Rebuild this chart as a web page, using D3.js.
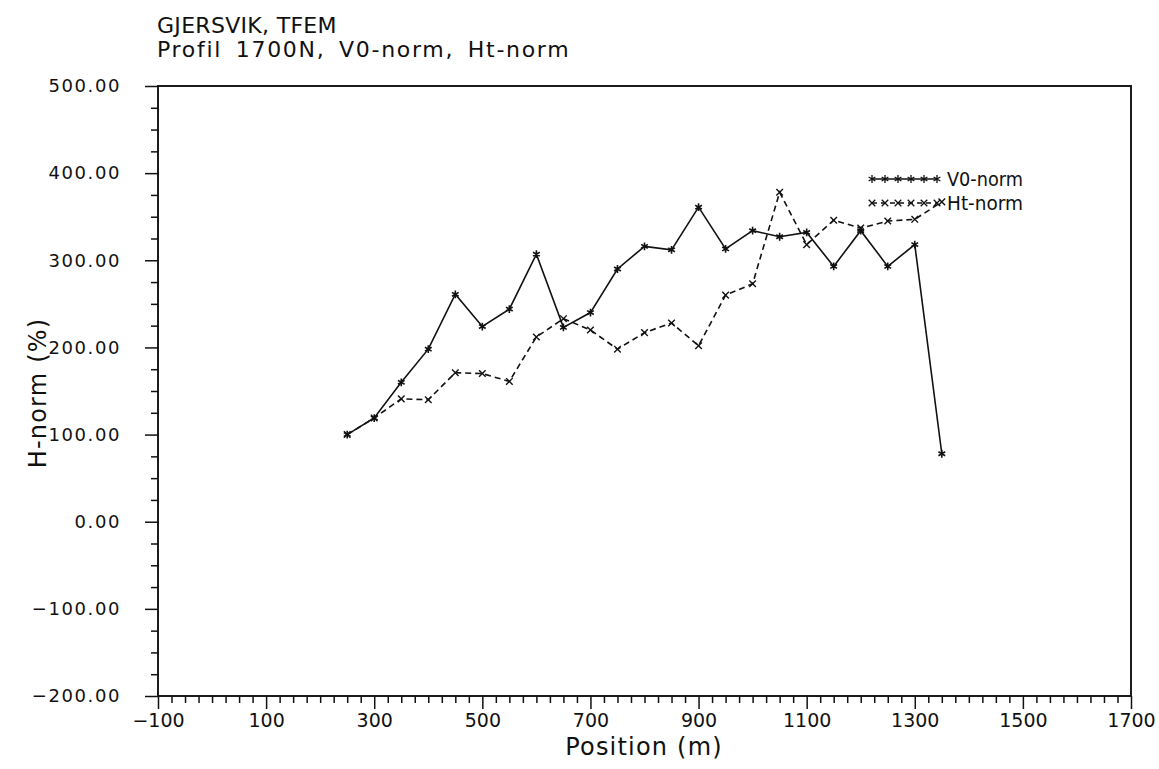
<!DOCTYPE html>
<html>
<head>
<meta charset="utf-8">
<script src="https://cdn.jsdelivr.net/npm/d3@7"></script>
<style>
  body { margin: 0; background: #fff; }
  svg text { font-family: "DejaVu Sans", sans-serif; fill: #111; }
</style>
</head>
<body>
<svg id="chart" width="1159" height="769"></svg>
<script>
// Station positions along the profile (m)
const positions = [250, 300, 350, 400, 450, 500, 550, 600, 650, 700, 750, 800,
                   850, 900, 950, 1000, 1050, 1100, 1150, 1200, 1250, 1300, 1350];
// Normalised amplitudes (%)
const v0Norm = [100, 119, 160, 198, 261, 224, 244, 307, 223, 240, 290, 316,
                312, 361, 313, 334, 327, 332, 293, 334, 293, 318, 78];
const htNorm = [100, 119, 141, 140, 171, 170, 161, 212, 233, 220, 198, 217,
                228, 202, 260, 273, 378, 318, 346, 337, 345, 347, 367];
const seriesNames = ["V0-norm", "Ht-norm"];
const titleLines = ["GJERSVIK, TFEM", "Profil 1700N, V0-norm, Ht-norm"];
const xTicks = [-100, 100, 300, 500, 700, 900, 1100, 1300, 1500, 1700];
const yTicks = [-200, -100, 0, 100, 200, 300, 400, 500];
const xLabel = "Position (m)";
const yLabel = "H-norm (%)";

const svg = d3.select("#chart");
const plotL = 158, plotR = 1131, plotT = 86, plotB = 696;

const x = d3.scaleLinear().domain([-100, 1700]).range([plotL, plotR]);
const y = d3.scaleLinear().domain([-200, 500]).range([plotB, plotT]);

const ink = "#111";

// Titles
svg.append("text").attr("x", 157).attr("y", 33).attr("font-size", 22)
  .attr("letter-spacing", 0.3).text(titleLines[0]);
svg.append("text").attr("x", 157).attr("y", 57).attr("font-size", 22)
  .attr("letter-spacing", 1.7).attr("word-spacing", 5).text(titleLines[1]);

// Minor ticks every 25 units on both axes
const xMinor = d3.range(-100, 1700.1, 25).filter(v => !xTicks.includes(v));
const yMinor = d3.range(-200, 500.1, 25).filter(v => !yTicks.includes(v));

const gx = svg.append("g").attr("transform", `translate(0,${plotB})`);
gx.call(d3.axisBottom(x).tickValues(xMinor).tickSize(7).tickFormat(""));
gx.append("g").call(d3.axisBottom(x).tickValues(xTicks).tickSize(13)
  .tickPadding(5).tickFormat(d3.format("d")));
gx.selectAll("text").attr("font-size", 19).attr("fill", ink)
  .style("font-family", "DejaVu Sans, sans-serif");

const gy = svg.append("g").attr("transform", `translate(${plotL},0)`);
gy.call(d3.axisLeft(y).tickValues(yMinor).tickSize(7).tickFormat(""));
gy.append("g").call(d3.axisLeft(y).tickValues(yTicks).tickSize(13)
  .tickPadding(24).tickFormat(d3.format(".2f")));
gy.selectAll("text").attr("font-size", 18).attr("fill", ink)
  .attr("letter-spacing", 1.6)
  .style("font-family", "DejaVu Sans, sans-serif");

svg.selectAll(".domain").remove();
svg.selectAll(".tick line").attr("stroke", ink).attr("stroke-width", 1.5);

// Frame
svg.append("rect").attr("x", plotL).attr("y", plotT)
  .attr("width", plotR - plotL).attr("height", plotB - plotT)
  .attr("fill", "none").attr("stroke", ink).attr("stroke-width", 1.9);

// Axis titles
svg.append("text").attr("x", 644).attr("y", 755).attr("text-anchor", "middle")
  .attr("font-size", 24).attr("letter-spacing", 1.2).text(xLabel);
svg.append("text").attr("transform", "translate(46,393) rotate(-90)")
  .attr("text-anchor", "middle").attr("font-size", 24)
  .attr("letter-spacing", 1.2).text(yLabel);

// Series
const line = d3.line().x(d => x(d[0])).y(d => y(d[1]));
const v0Pts = positions.map((p, i) => [p, v0Norm[i]]);
const htPts = positions.map((p, i) => [p, htNorm[i]]);

svg.append("path").datum(htPts).attr("d", line).attr("fill", "none")
  .attr("stroke", ink).attr("stroke-width", 1.6).attr("stroke-dasharray", "6,4");
svg.append("path").datum(v0Pts).attr("d", line).attr("fill", "none")
  .attr("stroke", ink).attr("stroke-width", 1.6);

const star = d3.symbol().type(d3.symbolAsterisk).size(42);
const cross = d3.symbol().type(d3.symbolTimes).size(30);

svg.append("g").selectAll("path").data(htPts).join("path")
  .attr("transform", d => `translate(${x(d[0])},${y(d[1])})`)
  .attr("d", cross).attr("fill", "none").attr("stroke", ink).attr("stroke-width", 1.4);
svg.append("g").selectAll("path").data(v0Pts).join("path")
  .attr("transform", d => `translate(${x(d[0])},${y(d[1])})`)
  .attr("d", star).attr("fill", "none").attr("stroke", ink).attr("stroke-width", 1.6);

// Legend
const legendRows = [
  { name: seriesNames[0], y: 179, dash: null, sym: star },
  { name: seriesNames[1], y: 203, dash: "5,4", sym: cross }
];
const lx0 = 872, lx1 = 937;
legendRows.forEach(r => {
  svg.append("line").attr("x1", lx0).attr("x2", lx1).attr("y1", r.y).attr("y2", r.y)
    .attr("stroke", ink).attr("stroke-width", 1.4)
    .attr("stroke-dasharray", r.dash);
  svg.append("g").selectAll("path").data(d3.range(6)).join("path")
    .attr("transform", i => `translate(${lx0 + i * (lx1 - lx0) / 5},${r.y})`)
    .attr("d", r.sym).attr("fill", "none").attr("stroke", ink).attr("stroke-width", 1.3);
  svg.append("text").attr("x", 947).attr("y", r.y + 7).attr("font-size", 19)
    .attr("textLength", 76).attr("lengthAdjust", "spacingAndGlyphs").text(r.name);
});
</script>
</body>
</html>
